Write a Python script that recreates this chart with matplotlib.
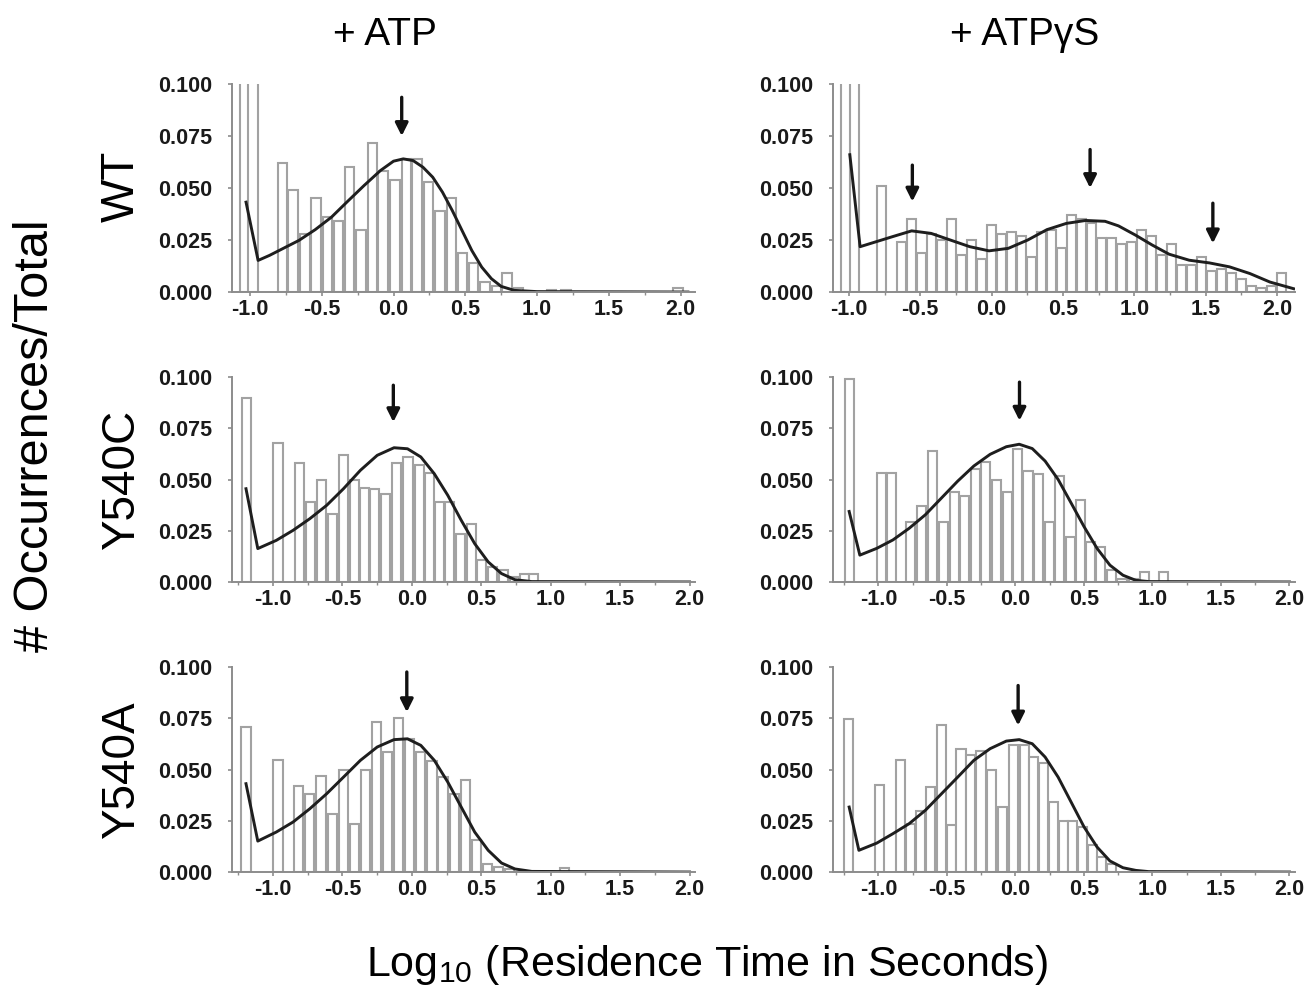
import matplotlib
matplotlib.use('Agg')
import matplotlib.pyplot as plt
from matplotlib.ticker import MultipleLocator

plt.rcParams['font.family'] = ['Liberation Sans', 'DejaVu Sans']
plt.rcParams['mathtext.fontset'] = 'custom'
plt.rcParams['mathtext.rm'] = 'Liberation Sans'

# ---- data ----------------------------------------------------------------
# WT + ATP
wt_atp_x = [-1.034, -0.977, -0.773, -0.70, -0.618, -0.539, -0.459, -0.382, -0.307,
            -0.227, -0.148, -0.073, 0.011, 0.091, 0.164, 0.245, 0.323, 0.405,
            0.482, 0.557, 0.636, 0.716, 0.791, 0.87, 1.10, 1.20, 1.98]
wt_atp_h = [0.15, 0.15, 0.062, 0.049, 0.028, 0.045, 0.036, 0.034, 0.060,
            0.030, 0.0715, 0.058, 0.054, 0.064, 0.064, 0.053, 0.039, 0.045,
            0.019, 0.014, 0.005, 0.003, 0.009, 0.002, 0.001, 0.001, 0.002]
wt_atp_fit_x = [-1.027, -0.943, -0.864, -0.773, -0.659, -0.545, -0.432, -0.318, -0.205,
                -0.091, 0.0, 0.068, 0.136, 0.205, 0.273, 0.341, 0.409, 0.477,
                0.545, 0.614, 0.682, 0.75, 0.841, 1.0, 2.05]
wt_atp_fit_y = [0.0432, 0.0152, 0.0176, 0.0208, 0.0248, 0.030, 0.036, 0.0437, 0.0512,
                0.0584, 0.0629, 0.064, 0.0632, 0.060, 0.0552, 0.048, 0.0392, 0.0296,
                0.020, 0.012, 0.0064, 0.0027, 0.0008, 0.0002, 0.0]
wt_atp_arrows = [(0.057, 0.0936, 0.075)]

# WT + ATPgS
wt_ags_x = [-1.02, -0.96, -0.77, -0.63, -0.56, -0.49, -0.42, -0.35, -0.28, -0.21,
            -0.14, -0.07, 0.00, 0.07, 0.14, 0.21, 0.28, 0.35, 0.42, 0.49,
            0.56, 0.63, 0.70, 0.77, 0.84, 0.91, 0.98, 1.05, 1.12, 1.19,
            1.26, 1.33, 1.40, 1.47, 1.54, 1.61, 1.68, 1.75, 1.82, 1.89,
            1.96, 2.03]
wt_ags_h = [0.15, 0.15, 0.051, 0.024, 0.035, 0.019, 0.028, 0.025, 0.035, 0.018,
            0.025, 0.016, 0.032, 0.028, 0.029, 0.027, 0.017, 0.029, 0.030, 0.021,
            0.037, 0.035, 0.033, 0.026, 0.026, 0.023, 0.024, 0.030, 0.027, 0.018,
            0.023, 0.013, 0.013, 0.017, 0.010, 0.011, 0.009, 0.0065, 0.003, 0.002,
            0.003, 0.009]
wt_ags_fit_x = [-0.993, -0.921, -0.808, -0.695, -0.56, -0.424, -0.289, -0.153, -0.018,
                0.117, 0.253, 0.388, 0.524, 0.659, 0.795, 0.889, 1.007, 1.125,
                1.243, 1.384, 1.526, 1.667, 1.809, 1.95, 2.116]
wt_ags_fit_y = [0.066, 0.0218, 0.0242, 0.0266, 0.0294, 0.0282, 0.025, 0.0218, 0.0198,
                0.021, 0.025, 0.030, 0.033, 0.0344, 0.034, 0.0318, 0.0274, 0.0226,
                0.0182, 0.0153, 0.014, 0.0121, 0.0089, 0.0048, 0.0016]
wt_ags_arrows = [(-0.555, 0.061, 0.0435), (0.69, 0.0685, 0.050), (1.55, 0.0427, 0.0234)]

# Y540C + ATP
c_atp_x = [-1.189, -0.964, -0.806, -0.729, -0.649, -0.569, -0.492, -0.414, -0.339,
           -0.269, -0.189, -0.109, -0.027, 0.053, 0.126, 0.199, 0.271, 0.351,
           0.429, 0.501, 0.579, 0.659, 0.738, 0.811, 0.877]
c_atp_h = [0.090, 0.068, 0.058, 0.039, 0.050, 0.033, 0.062, 0.050, 0.046,
           0.0455, 0.043, 0.058, 0.061, 0.057, 0.053, 0.039, 0.039, 0.0236,
           0.0285, 0.0106, 0.0073, 0.0057, 0.0024, 0.004, 0.004]
c_atp_fit_x = [-1.194, -1.109, -0.976, -0.855, -0.734, -0.613, -0.492, -0.370, -0.249,
               -0.128, -0.031, 0.065, 0.162, 0.259, 0.356, 0.453, 0.55, 0.646,
               0.743, 0.864, 2.0]
c_atp_fit_y = [0.0455, 0.0163, 0.0203, 0.0252, 0.0309, 0.0374, 0.0455, 0.0545, 0.0618,
               0.0655, 0.065, 0.061, 0.0528, 0.0423, 0.0301, 0.0187, 0.0098, 0.0041,
               0.0011, 0.0002, 0.0]
c_atp_arrows = [(-0.133, 0.096, 0.078)]

# Y540C + ATPgS
c_ags_x = [-1.213, -0.976, -0.905, -0.764, -0.688, -0.605, -0.522, -0.444, -0.369,
           -0.291, -0.215, -0.137, -0.061, 0.017, 0.092, 0.17, 0.246, 0.324,
           0.40, 0.478, 0.548, 0.624, 0.702, 0.778, 0.86, 0.943, 1.08]
c_ags_h = [0.099, 0.053, 0.053, 0.0295, 0.037, 0.064, 0.0295, 0.044, 0.042,
           0.055, 0.0585, 0.050, 0.044, 0.065, 0.054, 0.0525, 0.0295, 0.0516,
           0.022, 0.040, 0.0197, 0.017, 0.0057, 0.0016, 0.0016, 0.005, 0.005]
c_ags_fit_x = [-1.213, -1.135, -1.012, -0.894, -0.775, -0.657, -0.539, -0.421, -0.303,
               -0.184, -0.066, 0.028, 0.123, 0.217, 0.312, 0.407, 0.501, 0.596,
               0.69, 0.785, 0.879, 0.974, 2.0]
c_ags_fit_y = [0.0344, 0.0131, 0.0164, 0.0205, 0.0262, 0.0328, 0.041, 0.0492, 0.0566,
               0.0623, 0.066, 0.0672, 0.0651, 0.059, 0.050, 0.0385, 0.027, 0.0164,
               0.0082, 0.0033, 0.0008, 0.0002, 0.0]
c_ags_arrows = [(0.03, 0.0975, 0.0787)]

# Y540A + ATP
a_atp_x = [-1.194, -0.964, -0.814, -0.734, -0.654, -0.574, -0.494, -0.414, -0.334,
           -0.254, -0.174, -0.094, -0.015, 0.065, 0.145, 0.225, 0.305, 0.385,
           0.465, 0.545, 0.625, 0.705, 1.10]
a_atp_h = [0.071, 0.0545, 0.042, 0.038, 0.047, 0.0285, 0.050, 0.0236, 0.050,
           0.073, 0.0585, 0.075, 0.065, 0.0585, 0.054, 0.0465, 0.038, 0.045,
           0.0155, 0.004, 0.0025, 0.0015, 0.002]
a_atp_fit_x = [-1.194, -1.109, -0.976, -0.855, -0.734, -0.613, -0.492, -0.370, -0.249,
               -0.128, -0.031, 0.065, 0.162, 0.259, 0.356, 0.453, 0.55, 0.646,
               0.743, 0.864, 2.0]
a_atp_fit_y = [0.0431, 0.0151, 0.0195, 0.0244, 0.0309, 0.0382, 0.0463, 0.0545, 0.061,
               0.0646, 0.065, 0.0618, 0.0545, 0.0439, 0.0317, 0.0195, 0.0106, 0.0044,
               0.0015, 0.0003, 0.0]
a_atp_arrows = [(-0.036, 0.0976, 0.078)]

# Y540A + ATPgS
a_ags_x = [-1.22, -0.995, -0.835, -0.764, -0.693, -0.617, -0.539, -0.468, -0.397,
           -0.326, -0.251, -0.173, -0.097, -0.014, 0.064, 0.135, 0.206, 0.277,
           0.348, 0.418, 0.489, 0.56, 0.631, 0.702]
a_ags_h = [0.0748, 0.0423, 0.0545, 0.0236, 0.030, 0.0415, 0.0715, 0.0228, 0.060,
           0.057, 0.059, 0.050, 0.0317, 0.0618, 0.062, 0.056, 0.053, 0.034,
           0.025, 0.025, 0.022, 0.013, 0.0073, 0.004]
a_ags_fit_x = [-1.213, -1.142, -1.012, -0.894, -0.775, -0.657, -0.539, -0.421, -0.303,
               -0.184, -0.066, 0.028, 0.123, 0.217, 0.312, 0.407, 0.501, 0.596,
               0.69, 0.785, 0.879, 0.974, 2.0]
a_ags_fit_y = [0.0317, 0.0106, 0.0141, 0.0187, 0.0236, 0.0301, 0.0382, 0.0463, 0.0545,
               0.0602, 0.0639, 0.0646, 0.0626, 0.0561, 0.0463, 0.0341, 0.022, 0.0122,
               0.0054, 0.0021, 0.0008, 0.0002, 0.0]
a_ags_arrows = [(0.02, 0.091, 0.0715)]

col_titles = ['+ ATP', '+ ATP\u03b3S']
row_labels = ['WT', 'Y540C', 'Y540A']

panels = [
    [(wt_atp_x, wt_atp_h, wt_atp_fit_x, wt_atp_fit_y, wt_atp_arrows),
     (wt_ags_x, wt_ags_h, wt_ags_fit_x, wt_ags_fit_y, wt_ags_arrows)],
    [(c_atp_x, c_atp_h, c_atp_fit_x, c_atp_fit_y, c_atp_arrows),
     (c_ags_x, c_ags_h, c_ags_fit_x, c_ags_fit_y, c_ags_arrows)],
    [(a_atp_x, a_atp_h, a_atp_fit_x, a_atp_fit_y, a_atp_arrows),
     (a_ags_x, a_ags_h, a_ags_fit_x, a_ags_fit_y, a_ags_arrows)],
]

# ---- layout ---------------------------------------------------------------
fig = plt.figure(figsize=(13.12, 9.94), dpi=100)
col_left = [0.1768, 0.635]
col_width = [0.353, 0.352]
row_bottom = [0.7062, 0.4145, 0.1227]
row_height = [0.2093, 0.2062, 0.2062]
xlims = [[(-1.125, 2.1), (-1.11, 2.125)],
         [(-1.295, 2.04), (-1.33, 2.04)],
         [(-1.295, 2.04), (-1.33, 2.04)]]

grey = '#8c8c8c'
for r in range(3):
    for c in range(2):
        bx, bh, fx, fy, arrows = panels[r][c]
        ax = fig.add_axes([col_left[c], row_bottom[r], col_width[c], row_height[r]])
        # bars almost touch, so the neighbouring edges merge into grey strips
        ax.bar(bx, bh, width=0.066, color='white', edgecolor='#a2a2a2', linewidth=1.5)
        ax.plot(fx, fy, color='#1e1e1e', linewidth=2.1, solid_joinstyle='round')
        for ax_x, y0, y1 in arrows:
            ax.annotate('', xy=(ax_x, y1), xytext=(ax_x, y0),
                        arrowprops=dict(arrowstyle='-|>', color='#111111', lw=2.4,
                                        mutation_scale=19, shrinkA=0, shrinkB=0))
        ax.set_xlim(*xlims[r][c])
        ax.set_ylim(0, 0.1)
        ax.set_xticks([-1.0, -0.5, 0.0, 0.5, 1.0, 1.5, 2.0])
        ax.set_xticklabels(['-1.0', '-0.5', '0.0', '0.5', '1.0', '1.5', '2.0'])
        ax.xaxis.set_minor_locator(MultipleLocator(0.25))
        ax.set_yticks([0.0, 0.025, 0.05, 0.075, 0.1])
        ax.set_yticklabels(['0.000', '0.025', '0.050', '0.075', '0.100'])
        for s in ['top', 'right']:
            ax.spines[s].set_visible(False)
        for s in ['left', 'bottom']:
            ax.spines[s].set_color(grey)
            ax.spines[s].set_linewidth(1.4)
        ax.tick_params(axis='both', which='major', colors=grey, labelcolor='#1a1a1a',
                       labelsize=15.5, length=3, width=1.2)
        ax.tick_params(axis='x', which='major', pad=2)
        ax.tick_params(axis='y', which='major', pad=11)
        ax.tick_params(axis='x', which='minor', colors=grey, length=2, width=1)
        for lab in ax.get_xticklabels() + ax.get_yticklabels():
            lab.set_fontweight('bold')

# column titles, row labels, axis labels
fig.text(0.2935, 0.965, col_titles[0], fontsize=28, ha='center', va='center')
fig.text(0.781, 0.965, col_titles[1], fontsize=28, ha='center', va='center')
row_y = [0.812, 0.517, 0.225]
for lab, yy in zip(row_labels, row_y):
    fig.text(0.093, yy, lab, fontsize=33, rotation=90, ha='center', va='center')
fig.text(0.027, 0.562, '# Occurrences/Total', fontsize=35, rotation=90,
         ha='center', va='center')
fig.text(0.539, 0.029, 'Log$_{\\mathrm{10}}$ (Residence Time in Seconds)', fontsize=31,
         ha='center', va='center')

fig.savefig('out.png', dpi=100)
